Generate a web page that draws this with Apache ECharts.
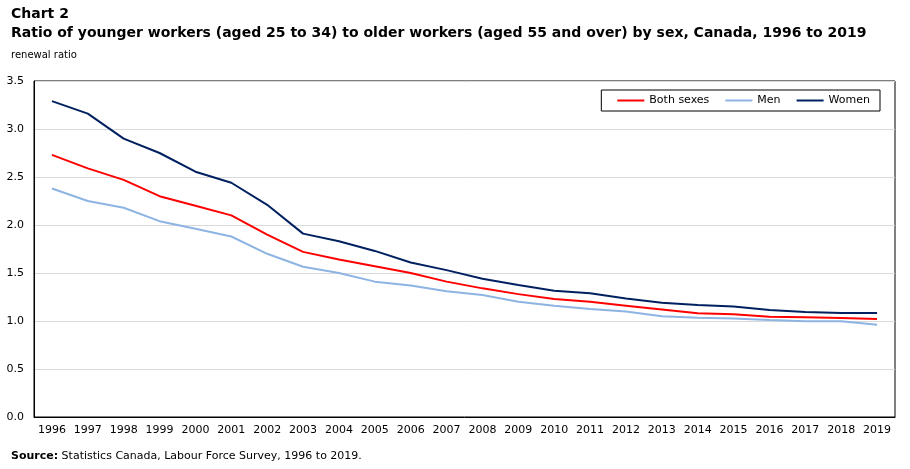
<!DOCTYPE html>
<html>
<head>
<meta charset="utf-8">
<script src="https://cdn.jsdelivr.net/npm/echarts@6/dist/echarts.min.js"></script>
<style>
  html, body { margin: 0; padding: 0; background: #fff; }
  #main { width: 910px; height: 469px; }
</style>
</head>
<body>
<div id="main"></div>
<script>
  var years = ['1996', '1997', '1998', '1999', '2000', '2001', '2002', '2003', '2004', '2005', '2006', '2007',
               '2008', '2009', '2010', '2011', '2012', '2013', '2014', '2015', '2016', '2017', '2018', '2019'];
  var bothSexes = [2.73, 2.59, 2.47, 2.30, 2.20, 2.10, 1.90, 1.72, 1.64, 1.57, 1.50, 1.41,
                   1.34, 1.28, 1.23, 1.20, 1.16, 1.12, 1.08, 1.07, 1.045, 1.04, 1.03, 1.02];
  var men = [2.38, 2.25, 2.18, 2.04, 1.96, 1.88, 1.70, 1.565, 1.50, 1.41, 1.37, 1.31,
             1.27, 1.20, 1.16, 1.125, 1.10, 1.05, 1.035, 1.025, 1.01, 0.997, 0.997, 0.96];
  var women = [3.29, 3.16, 2.90, 2.75, 2.555, 2.44, 2.21, 1.91, 1.83, 1.73, 1.61, 1.53,
               1.44, 1.375, 1.315, 1.29, 1.235, 1.19, 1.167, 1.15, 1.115, 1.094, 1.083, 1.083];
  var yTicks = ['0.0', '0.5', '1.0', '1.5', '2.0', '2.5', '3.0', '3.5'];

  var font = 'Verdana, "DejaVu Sans", sans-serif';
  var chart = echarts.init(document.getElementById('main'));

  function line(name, values, color) {
    return {
      name: name,
      type: 'line',
      data: values,
      symbol: 'none',
      smooth: false,
      lineStyle: { color: color, width: 2 },
      itemStyle: { color: color }
    };
  }

  chart.setOption({
    animation: false,
    textStyle: { fontFamily: font },
    title: [
      {
        text: 'Chart 2',
        left: 6, top: 2,
        textStyle: { fontFamily: font, fontSize: 14, fontWeight: 'bold', color: '#000' }
      },
      {
        text: 'Ratio of younger workers (aged 25 to 34) to older workers (aged 55 and over) by sex, Canada, 1996 to 2019',
        left: 6, top: 21,
        textStyle: { fontFamily: font, fontSize: 14, fontWeight: 'bold', color: '#000' }
      },
      {
        text: 'renewal ratio',
        left: 6, top: 45,
        textStyle: { fontFamily: font, fontSize: 10, fontWeight: 'normal', color: '#000' }
      },
      {
        text: '{b|Source:} Statistics Canada, Labour Force Survey, 1996 to 2019.',
        left: 6, top: 446,
        textStyle: {
          fontFamily: font, fontSize: 11, fontWeight: 'normal', color: '#000',
          rich: { b: { fontFamily: font, fontSize: 11, fontWeight: 'bold', color: '#000' } }
        }
      }
    ],
    legend: {
      right: 30, top: 90,
      itemWidth: 27, itemHeight: 2, itemGap: 16,
      padding: [5, 10, 5, 16],
      borderColor: '#000', borderWidth: 1,
      icon: 'rect',
      textStyle: { fontFamily: font, fontSize: 11, color: '#000' },
      data: ['Both sexes', 'Men', 'Women']
    },
    grid: {
      left: 34, right: 15, top: 81, bottom: 52,
      show: true, borderColor: '#000', borderWidth: 1
    },
    xAxis: {
      type: 'category',
      data: years,
      boundaryGap: true,
      axisLine: { lineStyle: { color: '#000' } },
      axisTick: { alignWithLabel: true, inside: true, length: 4, lineStyle: { color: '#000' } },
      axisLabel: { color: '#000', fontSize: 11, fontFamily: font, margin: 8, interval: 0 }
    },
    yAxis: {
      type: 'value',
      min: 0, max: 3.5, interval: 0.5,
      axisLine: { show: true, lineStyle: { color: '#000' } },
      axisTick: { show: false },
      axisLabel: {
        color: '#000', fontSize: 11, fontFamily: font, margin: 10,
        formatter: function (v) { return yTicks[Math.round(v * 2)]; }
      },
      splitLine: { lineStyle: { color: '#d9d9d9' } }
    },
    series: [
      line('Both sexes', bothSexes, '#ff0000'),
      line('Men', men, '#8db4e2'),
      line('Women', women, '#002060')
    ]
  });
</script>
</body>
</html>
